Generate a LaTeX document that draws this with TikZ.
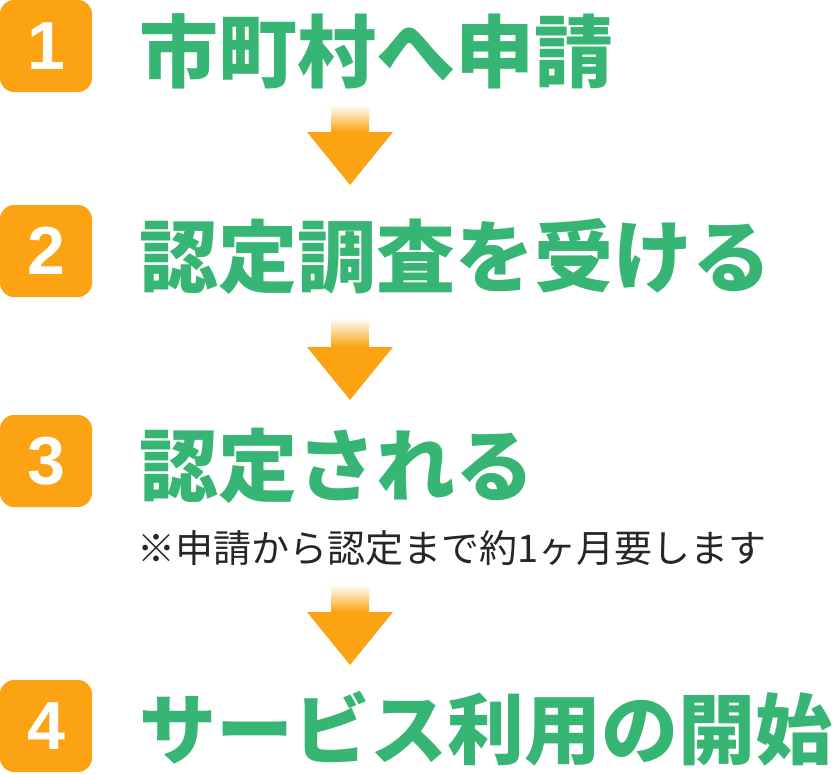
\documentclass[tikz,border=0pt]{standalone}
\usepackage{fontspec}
\setmainfont{Liberation Sans}
\newfontfamily\jpfont{Noto Sans CJK JP}
\definecolor{steporange}{HTML}{FBA313}
\definecolor{stepgreen}{HTML}{37B574}
\tikzset{
  numbox/.style={fill=steporange, rounded corners=14pt, minimum width=92pt,
    minimum height=92pt, inner sep=0pt, text=white,
    font=\bfseries\fontsize{68}{68}\selectfont},
  heading/.style={anchor=base west, inner sep=0pt, text=stepgreen,
    font=\jpfont\bfseries\fontsize{79}{79}\selectfont},
  note/.style={anchor=base west, inner sep=0pt, text=black!85,
    font=\jpfont\fontsize{38}{38}\selectfont},
}
\begin{document}
\begin{tikzpicture}[x=1pt, y=-1pt]
    \useasboundingbox (0,0) rectangle (840,774);

    % Step numbers
    \node[numbox] (num1) at (46,46) {1};
    \node[numbox] (num2) at (46,251) {2};
    \node[numbox] (num3) at (46,461) {3};
    \node[numbox] (num4) at (46,726) {4};

    % Step texts
    \node[heading] (step1) at (139,81) {市町村へ申請};
    \node[heading] (step2) at (139,286) {認定調査を受ける};
    \node[heading] (step3) at (139,495) {認定される};
    \node[heading, font=\jpfont\bfseries\fontsize{77}{77}\selectfont] (step4)
        at (139,758) {サービス利用の開始};

    % Remark under step 3
    \node[note] (remark) at (137,562) {※申請から認定まで約1ヶ月要します};

    % Down arrows
    \foreach \top/\base/\tip in {105/132/185, 318/347/400, 585/612/665} {
        \shade[top color=white, bottom color=steporange] (331,\top) rectangle (369,\base);
        \fill[steporange] (307,\base) -- (393,\base) -- (350,\tip) -- cycle;
    }
\end{tikzpicture}
\end{document}
